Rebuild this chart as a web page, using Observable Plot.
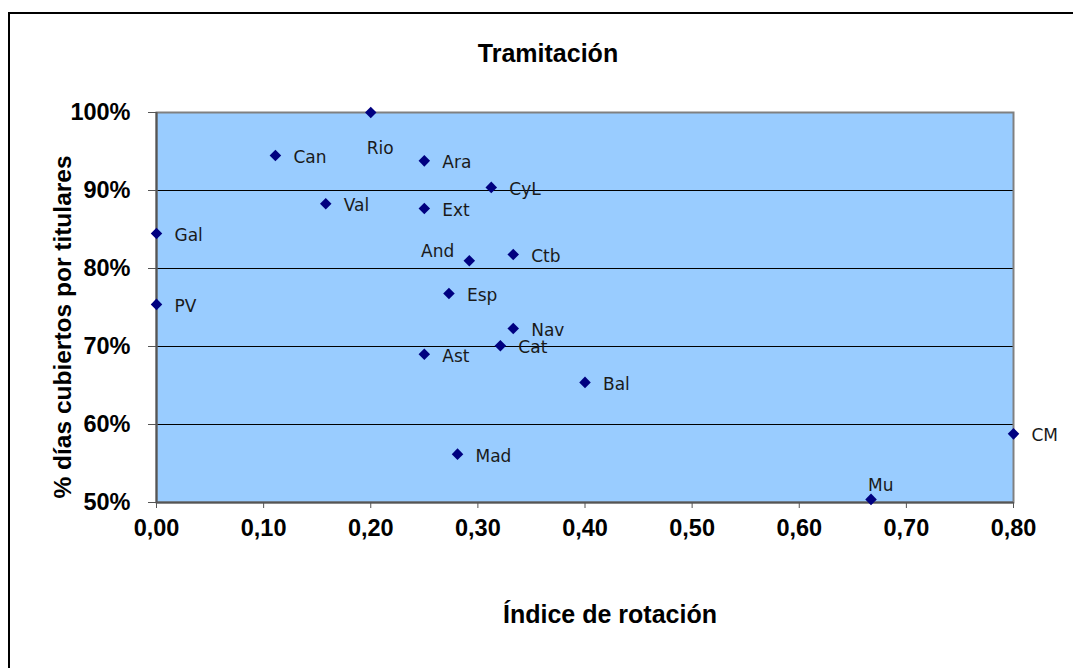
<!DOCTYPE html>
<html><head><meta charset="utf-8">
<script src="https://cdn.jsdelivr.net/npm/d3@7"></script>
<script src="https://cdn.jsdelivr.net/npm/@observablehq/plot@0.6"></script>
<style>
html,body{margin:0;padding:0;background:#fff;width:1073px;height:668px;overflow:hidden;position:relative;font-family:"Liberation Sans",Arial,sans-serif}
#border{position:absolute;left:8px;top:12px;width:1100px;height:700px;border-left:2px solid #000;border-top:2px solid #000;box-sizing:border-box}
#chart{position:absolute;left:0;top:0}
.t{position:absolute;font-weight:bold;color:#000;white-space:nowrap;line-height:1}
#title{left:548px;top:53px;transform:translate(-50%,-50%);font-size:25px}
#ytitle{left:63px;top:327px;transform:translate(-50%,-50%) rotate(-90deg);font-size:24.5px}
#xtitle{left:610px;top:614px;transform:translate(-50%,-50%);font-size:25px}
</style></head><body>
<div id="border"></div>
<div id="chart"></div>
<div class="t" id="title">Tramitación</div>
<div class="t" id="ytitle">% días cubiertos por titulares</div>
<div class="t" id="xtitle">Índice de rotación</div>
<script>
const regions  = ["Rio","Can","Ara","CyL","Val","Ext","Gal","And","Ctb","PV","Esp","Nav","Cat","Ast","Bal","Mad","CM","Mu"];
const rotation = [0.20,0.111,0.25,0.3125,0.158,0.25,0.0,0.292,0.333,0.0,0.273,0.333,0.321,0.25,0.40,0.281,0.80,0.667];
const coverage = [100,94.5,93.8,90.4,88.3,87.7,84.5,81.0,81.8,75.4,76.8,72.3,70.1,69.0,65.4,56.2,58.8,50.4];
const xTicks = [0,0.1,0.2,0.3,0.4,0.5,0.6,0.7,0.8];
const yTicks = [50,60,70,80,90,100];
const gridLines = [60,70,80,90];

// label placement (layout, not data)
const placements = {
  Rio: {textAnchor:"start", dx:-4, dy:36},
  And: {textAnchor:"end", dx:-15, dy:-9},
  Mu:  {textAnchor:"start", dx:-3, dy:-14}
};
const defaultPlace = {textAnchor:"start", dx:18, dy:2};

const data = regions.map((r,i)=>({region:r, x:rotation[i], y:coverage[i]}));
const groups = [...Object.keys(placements), "_default"];
const labelMarks = groups.map(g => {
  const p = g === "_default" ? defaultPlace : placements[g];
  const rows = g === "_default" ? data.filter(d => !(d.region in placements)) : data.filter(d => d.region === g);
  return Plot.text(rows, {x:"x", y:"y", text:"region", textAnchor:p.textAnchor, dx:p.dx, dy:p.dy,
    fontFamily:"DejaVu Sans", fontSize:17, fontWeight:"normal", fill:"#1a1a1a"});
});

const fmtX = d => d3.format(".2f")(d).replace(".", ",");

const chart = Plot.plot({
  width:1073, height:668,
  marginLeft:156, marginRight:60, marginTop:112, marginBottom:166,
  x:{domain:[0,0.8]},
  y:{domain:[50,100]},
  style:{background:"transparent", fontFamily:"Liberation Sans", fontSize:"23px", fontWeight:"bold", color:"#000", overflow:"visible"},
  marks:[
    Plot.frame({fill:"#99CCFF", stroke:"none"}),
    Plot.ruleY(gridLines, {stroke:"#000", strokeWidth:1}),
    Plot.frame({stroke:"#808080", strokeWidth:2}),
    Plot.axisX(xTicks, {tickSize:6, tickPadding:11, tickFormat:fmtX, stroke:"#555", fill:"#000", fontSize:23.5, fontWeight:"bold", label:null}),
    Plot.axisY(yTicks, {tickSize:8, tickPadding:18, tickFormat:d=>d+"%", stroke:"#555", fill:"#000", fontSize:23.5, fontWeight:"bold", label:null}),
    Plot.ruleX([0], {stroke:"#555", strokeWidth:2}),
    Plot.ruleY([50], {stroke:"#555", strokeWidth:2}),
    Plot.dot(data, {x:"x", y:"y", symbol:"diamond2", r:5.2, fill:"#000080"}),
    ...labelMarks
  ]
});
document.getElementById("chart").appendChild(chart);
</script>
</body></html>
